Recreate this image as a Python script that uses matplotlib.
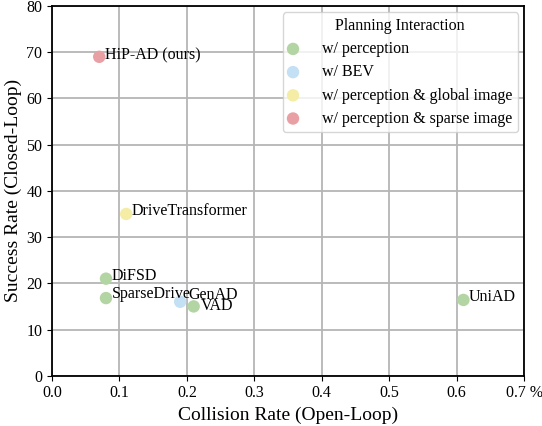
import matplotlib.pyplot as plt

plt.rcParams["font.family"] = ["Liberation Serif", "DejaVu Serif"]

# data
methods = ["HiP-AD (ours)", "DriveTransformer", "DiFSD", "SparseDrive", "GenAD", "VAD", "UniAD"]
collision = [0.07, 0.11, 0.08, 0.08, 0.19, 0.21, 0.61]
success = [69.0, 35.0, 21.0, 16.8, 16.0, 15.0, 16.4]
groups = ["w/ perception & sparse image", "w/ perception & global image", "w/ perception",
          "w/ perception", "w/ BEV", "w/ perception", "w/ perception"]
group_order = ["w/ perception", "w/ BEV", "w/ perception & global image", "w/ perception & sparse image"]
group_colors = {
    "w/ perception": "#b3d5a4",
    "w/ BEV": "#c4e0f5",
    "w/ perception & global image": "#f5eda5",
    "w/ perception & sparse image": "#e9a0a5",
}
# label offsets in points
offsets = [(4, 1), (4, 2), (4, 2), (4, 3), (6, 5), (5, 0), (4, 2)]

xticks = [0.0, 0.1, 0.2, 0.3, 0.4, 0.5, 0.6, 0.7]
xticklabels = ["0.0", "0.1", "0.2", "0.3", "0.4", "0.5", "0.6", "0.7 %"]

fig, ax = plt.subplots(figsize=(5.42, 4.26), dpi=100)

for g in group_order:
    xs = [c for c, gg in zip(collision, groups) if gg == g]
    ys = [s for s, gg in zip(success, groups) if gg == g]
    ax.scatter(xs, ys, s=80, color=group_colors[g], label=g, zorder=3, edgecolors="none")

for name, x, y, off in zip(methods, collision, success, offsets):
    ax.annotate(name, (x, y), xytext=off, textcoords="offset points",
                va="center", ha="left", fontsize=11.5, zorder=4)

ax.set_xlim(0, 0.7)
ax.set_ylim(0, 80)
ax.set_xticks(xticks)
ax.set_xticklabels(xticklabels)
ax.set_yticks(range(0, 81, 10))
ax.tick_params(labelsize=11.5)
ax.grid(True, color="#b5b5b5", linewidth=1.3)
ax.set_axisbelow(True)
for sp in ax.spines.values():
    sp.set_linewidth(1.3)
    sp.set_color("black")

ax.set_xlabel("Collision Rate (Open-Loop)", fontsize=14, labelpad=4)
ax.set_ylabel("Success Rate (Closed-Loop)", fontsize=14, labelpad=3)

leg = ax.legend(title="Planning Interaction", loc="upper right", fontsize=11.5,
                title_fontsize=11.5, frameon=True, borderaxespad=0.4,
                handlelength=0.6, handletextpad=1.5, borderpad=0.35, labelspacing=0.45)
leg.get_frame().set_edgecolor("#cccccc")

fig.subplots_adjust(left=0.096, right=0.967, top=0.986, bottom=0.118)
fig.savefig("out.png", dpi=100)
